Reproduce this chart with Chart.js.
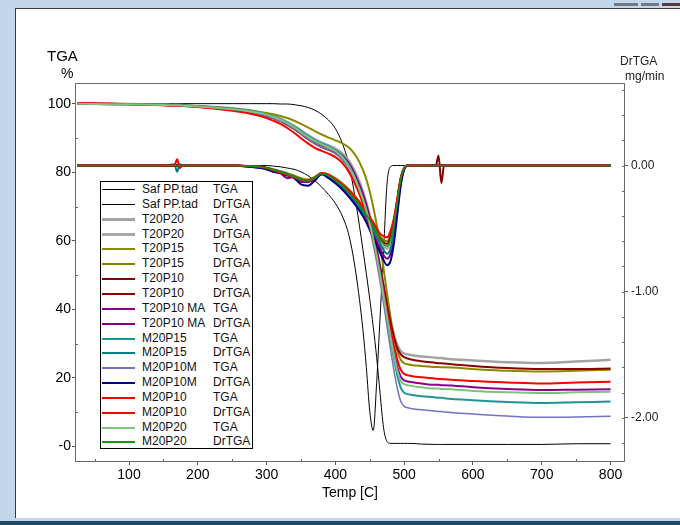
<!DOCTYPE html>
<html>
<head>
<meta charset="utf-8">
<script src="https://cdn.jsdelivr.net/npm/chart.js@4.4.1/dist/chart.umd.min.js"></script>
<style>
  html, body { margin: 0; padding: 0; }
  body { width: 680px; height: 525px; overflow: hidden; position: relative;
         background: #c3d7ec; font-family: "Liberation Sans", Arial, sans-serif; }
  #panel { position: absolute; left: 15px; top: 8px; width: 665px; height: 510px; background: #fff;
           border-left: 1px solid #3a3a3a; border-top: 1px solid #3a3a3a; box-sizing: border-box; }
  #edge { position: absolute; left: 0; top: 521px; width: 680px; height: 4px; background: #1c4a64; }
  .btn { position: absolute; top: 3px; height: 3px; background: #6f7a86; }
  #c { position: absolute; left: 0; top: 0; }
  .t { position: absolute; color: #000; white-space: nowrap; line-height: 1; }
  #legend { position: absolute; left: 100px; top: 181px; width: 153px; height: 268px; background: #fff;
            border: 1px solid #000; box-sizing: border-box; overflow: hidden; }
  .row { position: absolute; left: 0; width: 100%; height: 15px; font-size: 12px; line-height: 15px; color: #111; }
  .row .ln { position: absolute; left: 1px; width: 33px; }
  .row .nm { position: absolute; left: 41px; }
  .row .kd { position: absolute; left: 112px; }
</style>
</head>
<body>
<div id="panel"></div>
<div id="edge"></div>
<div class="btn" style="left:614px;width:24px;"></div>
<div class="btn" style="left:641px;width:18px;"></div>
<div class="btn" style="left:662px;width:18px;background:#5b3a3a;"></div>
<canvas id="c" width="680" height="525"></canvas>
<div class="t" style="left:47px;top:48px;font-size:15px;">TGA</div>
<div class="t" style="left:61px;top:66px;font-size:14px;">%</div>
<div class="t" style="left:620px;top:55px;font-size:12px;color:#222;">DrTGA</div>
<div class="t" style="left:625px;top:70px;font-size:12px;color:#222;">mg/min</div>
<div id="legend"></div>
<script>
// Temperature grid shared by every recorded curve (°C)
const tempC = [25,50,100,150,166,170,174,178,200,250,275,300,310,320,330,340,350,360,370,380,
               390,400,410,420,430,440,445,450,455,460,465,470,475,480,485,490,495,500,505,510,
               525,546,550,554,558,600,650,700,750,800];

// Tick values
const tempTicks = [100,200,300,400,500,600,700,800];
const tgaTicks = [0,20,40,60,80,100];
const drTicks = [0,-1,-2];

// TGA (%) and DrTGA (mg/min) per sample
const safTGA = [100.1,100.1,100.1,100.1,100.1,100.1,100.1,100.1,100.1,100.1, 100.1,100.1,100.1,100.0,100.0,99.8,99.5,99.0,98.2,97.0,
                95.3,92.8,88.6,82.0,71.0,57.5,50.5,43.0,35.0,26.0, 15.5,5.5,1.5,0.9,0.9,0.9,0.9,0.9,0.9,0.9,
                0.7,0.6,0.6,0.6,0.6,0.6,0.6,0.6,0.8,0.8];
const safDr = [0,0,0,0,0,0,0,0,0,0, 0,0,-0.005,-0.01,-0.02,-0.03,-0.05,-0.08,-0.12,-0.17,
               -0.23,-0.30,-0.40,-0.56,-0.86,-1.30,-1.60,-1.95,-2.10,-1.72, -1.20,-0.68,-0.15,-0.01,0,0,0,0,0,0,
               0,0,0,0,0,0,0,0,0,0];

const t20p20TGA = [100.1,100.1,100.0,99.8,99.7,99.7,99.7,99.6,99.4,98.7, 98.1,97.1,96.5,95.7,94.7,93.6,92.3,90.9,89.7,88.7,
                   87.9,87.0,85.6,83.3,79.6,74.5,71.2,67.4,63.0,58.0, 52.5,47.0,41.5,36.8,32.8,29.7,27.9,27.2,26.9,26.7,
                   26.3,25.9,25.8,25.8,25.7,25.1,24.6,24.4,24.8,25.3];
const t20p20Dr = [0,0,0,0,0,0,0,0,0,0, -0.005,-0.02,-0.035,-0.05,-0.07,-0.09,-0.11,-0.12,-0.10,-0.065,
                  -0.08,-0.12,-0.17,-0.23,-0.29,-0.36,-0.40,-0.45,-0.50,-0.55, -0.60,-0.64,-0.66,-0.60,-0.47,-0.29,-0.11,-0.02,0,0,
                  0,0,0,0,0,0,0,0,0,0];

const t20p15TGA = [100.1,100.0,99.9,99.8,99.7,99.7,99.7,99.6,99.4,98.7, 98.2,97.4,97.0,96.5,95.9,95.1,94.2,93.2,92.1,91.1,
                   90.2,89.4,88.5,87.2,84.8,80.8,78.0,74.4,70.0,64.8, 58.8,52.0,44.8,38.0,32.2,27.8,25.3,24.3,24.0,23.8,
                   23.5,23.2,23.2,23.1,23.1,22.6,22.1,21.9,22.1,22.4];
const t20p15Dr = [0,0,0,0,0,0,0,0,0,0, -0.005,-0.015,-0.03,-0.045,-0.06,-0.08,-0.10,-0.11,-0.09,-0.06,
                  -0.07,-0.10,-0.14,-0.19,-0.25,-0.32,-0.36,-0.41,-0.46,-0.51, -0.56,-0.59,-0.60,-0.55,-0.44,-0.27,-0.10,-0.02,0,0,
                  0,0,0,0,0,0,0,0,0,0];

const t20p10TGA = [100.2,100.1,100.0,99.7,99.6,99.6,99.6,99.5,99.2,98.3, 97.6,96.5,95.8,95.0,93.9,92.7,91.3,89.8,88.5,87.4,
                   86.6,85.7,84.2,81.7,77.9,73.0,70.0,66.4,62.2,57.5, 52.3,47.0,41.5,36.4,32.0,28.8,26.9,26.1,25.7,25.4,
                   24.9,24.4,24.3,24.3,24.2,23.5,22.9,22.6,22.6,22.8];
const t20p10Dr = [0,0,0,0,0,0,0,0,0,0, -0.005,-0.02,-0.035,-0.05,-0.07,-0.09,-0.11,-0.12,-0.10,-0.065,
                  -0.08,-0.12,-0.17,-0.22,-0.28,-0.35,-0.39,-0.43,-0.48,-0.53, -0.58,-0.61,-0.62,-0.57,-0.45,-0.28,-0.10,-0.02,0,0,
                  0,0,0.08,-0.14,0,0,0,0,0,0];

const t20p10maTGA = [100.1,100.0,99.9,99.7,99.6,99.6,99.6,99.5,99.3,98.5, 97.9,96.8,96.1,95.3,94.3,93.1,91.7,90.3,89.1,88.1,
                     87.3,86.4,85.0,82.6,78.8,73.8,70.6,66.8,62.4,57.4, 51.8,45.8,39.6,33.6,28.0,23.3,20.4,19.3,19.0,18.8,
                     18.4,18.0,18.0,17.9,17.9,17.3,16.8,16.5,16.6,16.7];
const t20p10maDr = [0,0,0,0,0,0,0,0,0,0, -0.01,-0.03,-0.05,-0.06,-0.10,-0.09,-0.13,-0.13,-0.11,-0.07,
                    -0.09,-0.13,-0.18,-0.24,-0.30,-0.38,-0.43,-0.48,-0.54,-0.60, -0.66,-0.71,-0.74,-0.70,-0.56,-0.35,-0.14,-0.03,0,0,
                    0,0,0,0,0,0,0,0,0,0];

const m20p15TGA = [100.2,100.1,100.0,99.8,99.7,99.7,99.7,99.6,99.4,98.6, 98.0,97.0,96.4,95.6,94.6,93.4,92.1,90.7,89.5,88.5,
                   87.6,86.5,84.8,82.0,77.8,72.4,69.0,65.0,60.5,55.5, 50.0,44.0,37.8,31.6,25.8,20.8,17.2,15.7,15.3,15.1,
                   14.7,14.3,14.2,14.2,14.1,13.5,13.0,12.7,12.9,13.1];
const m20p15Dr = [0,0,0,0,0.01,-0.05,0.01,0,0,0, -0.005,-0.02,-0.035,-0.05,-0.07,-0.09,-0.11,-0.12,-0.10,-0.065,
                  -0.08,-0.12,-0.17,-0.23,-0.29,-0.37,-0.41,-0.46,-0.51,-0.57, -0.62,-0.67,-0.70,-0.66,-0.53,-0.33,-0.13,-0.03,0,0,
                  0,0,0,0,0,0,0,0,0,0];

const m20p10mTGA = [100.2,100.1,99.9,99.7,99.6,99.6,99.5,99.5,99.2,98.3, 97.6,96.5,95.8,95.0,94.0,92.8,91.4,89.9,88.6,87.5,
                    86.6,85.5,83.6,80.7,76.4,71.0,67.6,63.6,59.0,53.8, 48.0,41.8,35.2,28.6,22.4,17.0,13.2,11.7,11.3,11.1,
                    10.7,10.3,10.2,10.2,10.1,9.5,8.9,8.5,8.6,8.8];
const m20p10mDr = [0,0,0,0,0,0,0,0,0,0, -0.01,-0.03,-0.05,-0.06,-0.08,-0.10,-0.15,-0.16,-0.12,-0.07,
                   -0.10,-0.14,-0.19,-0.25,-0.32,-0.40,-0.45,-0.51,-0.57,-0.63, -0.69,-0.75,-0.79,-0.76,-0.62,-0.39,-0.16,-0.03,0,0,
                   0,0,0,0,0,0,0,0,0,0];

const m20p10TGA = [100.3,100.2,99.9,99.6,99.5,99.5,99.5,99.4,99.1,98.0, 97.2,95.9,95.1,94.2,93.0,91.6,90.0,88.5,87.2,86.3,
                   85.5,84.5,82.8,80.0,76.0,71.0,68.0,64.4,60.3,55.6, 50.4,45.0,39.5,34.2,29.5,25.4,22.4,21.2,20.8,20.6,
                   20.2,19.8,19.7,19.7,19.6,19.1,18.7,18.4,18.7,18.9];
const m20p10Dr = [0,0,0,0,0,0.05,-0.02,0,0,0, -0.005,-0.02,-0.04,-0.055,-0.075,-0.095,-0.115,-0.125,-0.10,-0.06,
                  -0.075,-0.11,-0.15,-0.20,-0.26,-0.33,-0.37,-0.41,-0.45,-0.50, -0.54,-0.56,-0.57,-0.52,-0.42,-0.26,-0.10,-0.02,0,0,
                  0,0,0,0,0,0,0,0,0,0];

const m20p20TGA = [100.1,100.0,99.9,99.7,99.6,99.6,99.6,99.5,99.3,98.5, 97.9,96.9,96.2,95.4,94.4,93.2,91.8,90.4,89.2,88.2,
                   87.3,86.2,84.4,81.6,77.5,72.2,68.9,65.0,60.6,55.6, 50.0,44.0,38.0,32.2,26.8,22.2,19.2,18.2,17.9,17.7,
                   17.3,16.9,16.9,16.8,16.8,16.2,15.8,15.6,15.8,16.0];
const m20p20Dr = [0,0,0,0,0,0,0,0,0,0, -0.005,-0.02,-0.035,-0.05,-0.07,-0.09,-0.11,-0.12,-0.10,-0.065,
                  -0.08,-0.12,-0.16,-0.22,-0.28,-0.35,-0.39,-0.43,-0.48,-0.53, -0.58,-0.62,-0.64,-0.59,-0.47,-0.29,-0.11,-0.02,0,0,
                  0,0,0,0,0,0,0,0,0,0];

// Curve list in legend order: sample, signal, values, colour, line width
const series = [
  ['Saf PP.tad', 'TGA',   safTGA,      '#000000', 1],
  ['Saf PP.tad', 'DrTGA', safDr,       '#000000', 1],
  ['T20P20',     'TGA',   t20p20TGA,   '#a3a3a3', 2.5],
  ['T20P20',     'DrTGA', t20p20Dr,    '#a8a8a8', 2.5],
  ['T20P15',     'TGA',   t20p15TGA,   '#8a8a00', 2],
  ['T20P15',     'DrTGA', t20p15Dr,    '#828200', 2],
  ['T20P10',     'TGA',   t20p10TGA,   '#8b0000', 2],
  ['T20P10',     'DrTGA', t20p10Dr,    '#850000', 2],
  ['T20P10 MA',  'TGA',   t20p10maTGA, '#8b008b', 2],
  ['T20P10 MA',  'DrTGA', t20p10maDr,  '#800080', 2],
  ['M20P15',     'TGA',   m20p15TGA,   '#1f9595', 2],
  ['M20P15',     'DrTGA', m20p15Dr,    '#008080', 2],
  ['M20P10M',    'TGA',   m20p10mTGA,  '#7373c2', 1.5],
  ['M20P10M',    'DrTGA', m20p10mDr,   '#00008b', 2],
  ['M20P10',     'TGA',   m20p10TGA,   '#ff0000', 2],
  ['M20P10',     'DrTGA', m20p10Dr,    '#ff0000', 2],
  ['M20P20',     'TGA',   m20p20TGA,   '#7cc47c', 2],
  ['M20P20',     'DrTGA', m20p20Dr,    '#139613', 1.6]
];

const FONT = '"Liberation Sans", Arial, sans-serif';

const datasets = series.map(([name, kind, vals, color, width], i) => ({
  label: name + ' ' + kind,
  data: tempC.map((t, k) => ({ x: t, y: vals[k] })),
  yAxisID: kind === 'TGA' ? 'y' : 'y2',
  borderColor: color,
  backgroundColor: color,
  borderWidth: width,
  pointRadius: 0,
  fill: false,
  cubicInterpolationMode: 'monotone',
  order: series.length - i
}));

// Plot frame plus the small inward ticks between the labelled ones
const framePlugin = {
  id: 'frame',
  afterDraw(chart) {
    const { ctx, chartArea: a, scales } = chart;
    const L = Math.round(a.left), R = Math.round(a.right), T = Math.round(a.top), B = Math.round(a.bottom);
    ctx.save();
    ctx.strokeStyle = '#6a6a6a';
    ctx.lineWidth = 1;
    ctx.strokeRect(L + 0.5, T + 0.5, R - L - 1, B - T - 1);
    ctx.beginPath();
    for (let v = 50; v < 800; v += 100) {
      const px = Math.round(scales.x.getPixelForValue(v)) + 0.5;
      ctx.moveTo(px, B); ctx.lineTo(px, B - 3);
    }
    for (let v = 10; v < 100; v += 20) {
      const py = Math.round(scales.y.getPixelForValue(v)) + 0.5;
      ctx.moveTo(L, py); ctx.lineTo(L + 3, py);
    }
    for (let k = -11; k <= 3; k++) {
      const py = Math.round(scales.y2.getPixelForValue(k * 0.2)) + 0.5;
      ctx.moveTo(R, py); ctx.lineTo(R - 3, py);
    }
    ctx.stroke();
    ctx.restore();
  }
};

const tickGrid = { display: true, drawOnChartArea: false, drawTicks: true, tickLength: 3, color: '#555' };

new Chart(document.getElementById('c'), {
  type: 'line',
  data: { datasets },
  options: {
    responsive: false,
    animation: false,
    devicePixelRatio: 1,
    layout: { padding: { top: 83, left: 0, right: 0, bottom: 0 } },
    plugins: { legend: { display: false }, tooltip: { enabled: false } },
    scales: {
      x: {
        type: 'linear', position: 'bottom', min: 21.5, max: 821,
        afterBuildTicks: s => { s.ticks = tempTicks.map(v => ({ value: v })); },
        afterFit: s => { s.height = 63; },
        grid: tickGrid,
        border: { display: false },
        ticks: { font: { family: FONT, size: 14 }, color: '#000', padding: 2, maxRotation: 0, autoSkip: false },
        title: { display: true, text: 'Temp [C]', font: { family: FONT, size: 14 }, color: '#000',
                 padding: { top: 0, bottom: 23 } }
      },
      y: {
        type: 'linear', position: 'left', min: -4.53, max: 106.13,
        afterBuildTicks: s => { s.ticks = tgaTicks.map(v => ({ value: v })); },
        afterFit: s => { s.width = 75; },
        grid: tickGrid,
        border: { display: false },
        ticks: { font: { family: FONT, size: 14 }, color: '#000', padding: 1, autoSkip: false,
                 callback: v => (v === 0 ? '-0' : String(v)) }
      },
      y2: {
        type: 'linear', position: 'right', min: -2.35, max: 0.654,
        afterBuildTicks: s => { s.ticks = drTicks.map(v => ({ value: v })); },
        afterFit: s => { s.width = 55; },
        grid: tickGrid,
        border: { display: false },
        ticks: { font: { family: FONT, size: 12 }, color: '#222', padding: 3, autoSkip: false,
                 callback: v => Number(v).toFixed(2) }
      }
    }
  },
  plugins: [framePlugin]
});

// Two-column legend box built from the same curve list
const legend = document.getElementById('legend');
series.forEach(([name, kind, , color, width], i) => {
  const row = document.createElement('div');
  row.className = 'row';
  row.style.top = Math.round(i * 14.85) + 'px';
  const ln = document.createElement('div');
  ln.className = 'ln';
  const w = Math.max(1, Math.round(width));
  ln.style.top = Math.round(7.5 - w / 2) + 'px';
  ln.style.borderTop = w + 'px solid ' + color;
  const nm = document.createElement('span');
  nm.className = 'nm';
  nm.textContent = name;
  const kd = document.createElement('span');
  kd.className = 'kd';
  kd.textContent = kind;
  row.append(ln, nm, kd);
  legend.appendChild(row);
});
</script>
</body>
</html>
